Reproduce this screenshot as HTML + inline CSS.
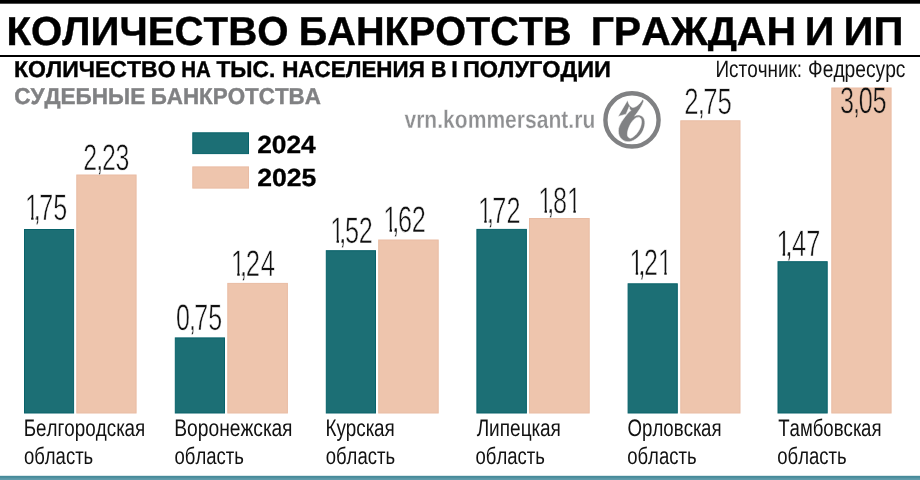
<!DOCTYPE html>
<html lang="ru"><head><meta charset="utf-8"><title>Количество банкротств граждан и ИП</title>
<style>
html,body{margin:0;padding:0;background:#fff}
body{width:920px;height:480px;overflow:hidden}
svg{display:block}
text{font-family:"Liberation Sans",sans-serif;font-kerning:none;text-rendering:geometricPrecision}
.t{font-weight:bold;font-size:40.5px;stroke:#000;stroke-width:0.4px}
.s1{font-weight:bold;font-size:23px;stroke:#000;stroke-width:0.4px}
.s2{font-weight:bold;font-size:23px;fill:#808183;stroke:#808183;stroke-width:0.4px}
.src{font-size:23.8px;fill:#111}
.url{font-weight:bold;font-size:25.3px;fill:#8e8f91;stroke:#fff;stroke-width:0.3px}
.lg{font-weight:bold;font-size:24.7px;stroke:#000;stroke-width:0.3px}
.v{font-size:36.8px;fill:#111;stroke:#fff;stroke-width:0.6px;vector-effect:non-scaling-stroke}
.r{font-size:23.9px;fill:#111}
</style></head><body>
<svg width="920" height="480" viewBox="0 0 920 480">
<defs><clipPath id="tc"><rect x="0" y="0" width="920" height="51.2"/></clipPath></defs>
<rect x="0" y="0" width="920" height="480" fill="#fff"/>
<rect x="0" y="0" width="920" height="3.7" fill="#000"/>
<rect x="0" y="55" width="920" height="2" fill="#000"/>
<rect x="0" y="475.8" width="920" height="4.2" fill="#468a9a"/>
<rect x="0" y="477.6" width="920" height="2.4" fill="#5996a6"/>
<rect x="0" y="478.8" width="920" height="1.2" fill="#609cac"/>
<g clip-path="url(#tc)">
<text x="6.41" y="45" class="t" textLength="282.08" lengthAdjust="spacingAndGlyphs">КОЛИЧЕСТВО</text>
<text x="298.85" y="45" class="t" textLength="272.75" lengthAdjust="spacingAndGlyphs">БАНКРОТСТВ</text>
<text x="590.66" y="45" class="t" textLength="205.3" lengthAdjust="spacingAndGlyphs">ГРАЖДАН</text>
<text x="804.86" y="45" class="t" textLength="29.71" lengthAdjust="spacingAndGlyphs">И</text>
<text x="843.63" y="45" class="t" textLength="59.96" lengthAdjust="spacingAndGlyphs">ИП</text>
</g>
<text x="14.06" y="77" class="s1" textLength="161.51" lengthAdjust="spacingAndGlyphs">КОЛИЧЕСТВО</text>
<text x="181.13" y="77" class="s1" textLength="29.61" lengthAdjust="spacingAndGlyphs">НА</text>
<text x="216.44" y="77" class="s1" textLength="58.82" lengthAdjust="spacingAndGlyphs">ТЫС.</text>
<text x="282.2" y="77" class="s1" textLength="142.6" lengthAdjust="spacingAndGlyphs">НАСЕЛЕНИЯ</text>
<text x="430.96" y="77" class="s1" textLength="15.51" lengthAdjust="spacingAndGlyphs">В</text>
<text x="451.32" y="77" class="s1" textLength="6.56" lengthAdjust="spacingAndGlyphs">I</text>
<text x="462.93" y="77" class="s1" textLength="148.04" lengthAdjust="spacingAndGlyphs">ПОЛУГОДИИ</text>
<text x="14.18" y="104" class="s2" textLength="131.01" lengthAdjust="spacingAndGlyphs">СУДЕБНЫЕ</text>
<text x="150.7" y="104" class="s2" textLength="170.19" lengthAdjust="spacingAndGlyphs">БАНКРОТСТВА</text>
<text x="715.45" y="77" class="src" textLength="86.58" lengthAdjust="spacingAndGlyphs">Источник:</text>
<text x="808.09" y="77" class="src" textLength="97.41" lengthAdjust="spacingAndGlyphs">Федресурс</text>
<text x="404.42" y="128" class="url" textLength="190.87" lengthAdjust="spacingAndGlyphs">vrn.kommersant.ru</text>
<rect x="192.8" y="132.8" width="55.7" height="20.8" fill="#1c6f75" stroke="#08626a" stroke-width="1"/>
<rect x="192.8" y="166.9" width="55.7" height="21.2" fill="#eec5ad" stroke="#e9bca4" stroke-width="1"/>
<text x="257.19" y="153" class="lg" textLength="58.55" lengthAdjust="spacingAndGlyphs">2024</text>
<text x="257.18" y="186" class="lg" textLength="59.16" lengthAdjust="spacingAndGlyphs">2025</text>
<g id="logo" fill="#808183"><circle cx="632" cy="119.9" r="26.6" fill="none" stroke="#808183" stroke-width="4.4"/>
<path fill-rule="evenodd" stroke="#fff" stroke-width="5" transform="translate(612,96) scale(0.104167)" d="M58,196 L150,40 C158,78 176,106 200,110 C235,108 265,78 293,34 L306,46 C288,98 257,142 217,194 C236,180 270,178 295,200 C326,230 319,290 296,336 C270,386 220,431 165,439 C110,441 61,405 61,335 C61,280 110,215 165,152 L182,140 C172,130 167,118 165,102 L135,174 Z M255,203 C286,205 291,250 273,300 C256,345 216,396 176,406 C160,402 148,390 148,372 C146,345 156,310 176,272 C196,235 226,203 255,203 Z"/></g>
<rect x="24.5" y="229.5" width="49.1" height="183.5" fill="#1c6f75" stroke="#08626a" stroke-width="1"/>
<text transform="scale(0.6827,1)" x="36.48 49.55 57.34 77.93" y="220" class="v">1,75</text>
<rect x="26.01" y="216.35" width="5.12" height="4.55" fill="#fff"/>
<rect x="33.54" y="216.35" width="2.09" height="4.55" fill="#fff"/>
<rect x="76.8" y="175.0" width="59.3" height="238.0" fill="#eec5ad" stroke="#e9bca4" stroke-width="1"/>
<text transform="scale(0.6782,1)" x="122.76 141.89 150.29 170.34" y="170" class="v">2,23</text>
<text x="23.65" y="436" class="r" textLength="121.45" lengthAdjust="spacingAndGlyphs">Белгородская</text>
<text x="23.92" y="464" class="r" textLength="69.34" lengthAdjust="spacingAndGlyphs">область</text>
<rect x="175.3" y="337.9" width="49.2" height="75.1" fill="#1c6f75" stroke="#08626a" stroke-width="1"/>
<text transform="scale(0.6798,1)" x="258.85 277.98 285.76 306.35" y="330" class="v">0,75</text>
<rect x="227.8" y="283.4" width="59.6" height="129.6" fill="#eec5ad" stroke="#e9bca4" stroke-width="1"/>
<text transform="scale(0.7002,1)" x="329.65 342.72 351.12 372.22" y="276" class="v">1,24</text>
<rect x="231.97" y="272.35" width="5.25" height="4.55" fill="#fff"/>
<rect x="239.7" y="272.35" width="2.16" height="4.55" fill="#fff"/>
<text x="174.22" y="436" class="r" textLength="118.31" lengthAdjust="spacingAndGlyphs">Воронежская</text>
<text x="174.52" y="464" class="r" textLength="69.34" lengthAdjust="spacingAndGlyphs">область</text>
<rect x="326.3" y="250.7" width="49.2" height="162.3" fill="#1c6f75" stroke="#08626a" stroke-width="1"/>
<text transform="scale(0.6862,1)" x="481.32 494.39 502.82 522.73" y="243" class="v">1,52</text>
<rect x="331.4" y="239.35" width="5.14" height="4.55" fill="#fff"/>
<rect x="338.97" y="239.35" width="2.11" height="4.55" fill="#fff"/>
<rect x="378.7" y="240.0" width="59.5" height="173.0" fill="#eec5ad" stroke="#e9bca4" stroke-width="1"/>
<text transform="scale(0.6898,1)" x="555.65 568.72 577.0 597.06" y="232" class="v">1,62</text>
<rect x="384.39" y="228.35" width="5.17" height="4.55" fill="#fff"/>
<rect x="392.0" y="228.35" width="2.12" height="4.55" fill="#fff"/>
<text x="325.45" y="436" class="r" textLength="69.36" lengthAdjust="spacingAndGlyphs">Курская</text>
<text x="325.72" y="464" class="r" textLength="69.34" lengthAdjust="spacingAndGlyphs">область</text>
<rect x="476.9" y="229.4" width="49.5" height="183.6" fill="#1c6f75" stroke="#08626a" stroke-width="1"/>
<text transform="scale(0.688,1)" x="694.75 707.81 715.6 736.16" y="223" class="v">1,72</text>
<rect x="479.1" y="219.35" width="5.16" height="4.55" fill="#fff"/>
<rect x="486.69" y="219.35" width="2.11" height="4.55" fill="#fff"/>
<rect x="529.5" y="218.5" width="59.7" height="194.5" fill="#eec5ad" stroke="#e9bca4" stroke-width="1"/>
<text transform="scale(0.6858,1)" x="784.92 797.99 806.39 826.96" y="213" class="v">1,81</text>
<rect x="539.4" y="209.35" width="5.14" height="4.55" fill="#fff"/>
<rect x="546.97" y="209.35" width="2.1" height="4.55" fill="#fff"/>
<rect x="568.23" y="209.35" width="5.14" height="4.55" fill="#fff"/>
<rect x="575.8" y="209.35" width="5.0" height="4.55" fill="#fff"/>
<text x="476.63" y="436" class="r" textLength="84.19" lengthAdjust="spacingAndGlyphs">Липецкая</text>
<text x="475.52" y="464" class="r" textLength="69.34" lengthAdjust="spacingAndGlyphs">область</text>
<rect x="628.1" y="283.8" width="49.2" height="129.2" fill="#1c6f75" stroke="#08626a" stroke-width="1"/>
<text transform="scale(0.6799,1)" x="925.92 938.99 947.39 967.96" y="275" class="v">1,21</text>
<rect x="630.62" y="271.35" width="5.09" height="4.55" fill="#fff"/>
<rect x="638.12" y="271.35" width="2.08" height="4.55" fill="#fff"/>
<rect x="659.2" y="271.35" width="5.09" height="4.55" fill="#fff"/>
<rect x="666.7" y="271.35" width="4.96" height="4.55" fill="#fff"/>
<rect x="680.8" y="120.8" width="59.2" height="292.2" fill="#eec5ad" stroke="#e9bca4" stroke-width="1"/>
<text transform="scale(0.7,1)" x="977.6 996.73 1004.52 1025.11" y="114" class="v">2,75</text>
<text x="627.62" y="436" class="r" textLength="93.98" lengthAdjust="spacingAndGlyphs">Орловская</text>
<text x="627.22" y="464" class="r" textLength="69.34" lengthAdjust="spacingAndGlyphs">область</text>
<rect x="778.0" y="261.7" width="49.2" height="151.3" fill="#1c6f75" stroke="#08626a" stroke-width="1"/>
<text transform="scale(0.6902,1)" x="1124.92 1137.99 1147.55 1168.1" y="256" class="v">1,47</text>
<rect x="777.49" y="252.35" width="5.17" height="4.55" fill="#fff"/>
<rect x="785.11" y="252.35" width="2.12" height="4.55" fill="#fff"/>
<rect x="831.8" y="88.0" width="59.3" height="325.0" fill="#eec5ad" stroke="#e9bca4" stroke-width="1"/>
<text transform="scale(0.686,1)" x="1224.52 1243.54 1251.94 1271.92" y="113" class="v" style="stroke:#eec5ad">3,05</text>
<text x="778.18" y="436" class="r" textLength="103.31" lengthAdjust="spacingAndGlyphs">Тамбовская</text>
<text x="777.32" y="464" class="r" textLength="69.34" lengthAdjust="spacingAndGlyphs">область</text>
</svg></body></html>
